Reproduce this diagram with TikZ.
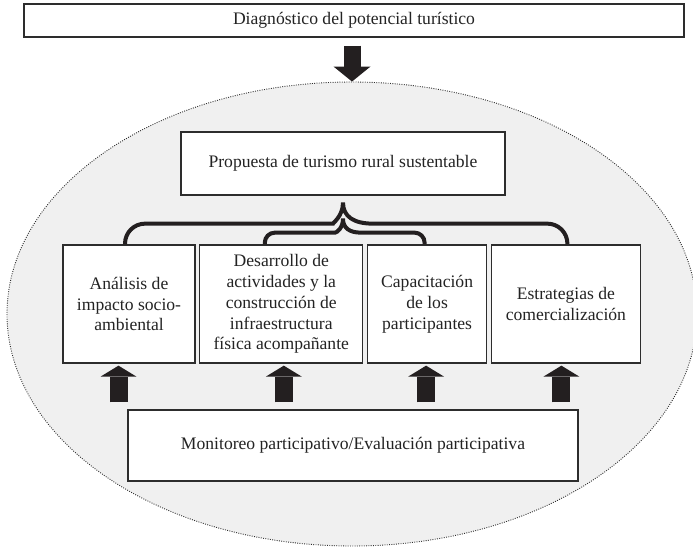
\documentclass[tikz,border=0pt]{standalone}
\usepackage{fontspec}
\setmainfont{Liberation Serif}
\usepackage{xcolor}
\usetikzlibrary{shapes.geometric, arrows.meta, positioning, calc}
\definecolor{cZone}{RGB}{240,240,240}
\definecolor{cLine}{RGB}{45,45,45}
\definecolor{cText}{RGB}{35,35,35}
\definecolor{cArrow}{RGB}{35,31,32}
\tikzset{
	box/.style      ={rectangle, draw=cLine, line width=1.3pt, fill=white, align=center, inner sep=2pt, text=cText},
	zonestyle/.style={ellipse, draw=cLine, fill=cZone, line width=0.9pt, dash pattern=on 0.9pt off 1.4pt, inner sep=0pt},
	downflow/.style ={line width=17pt, draw=cArrow, -{Triangle[length=15pt, width=37pt, line width=0pt]}},
	upflow/.style   ={line width=18pt, draw=cArrow, -{Triangle[length=11pt, width=36pt, line width=0pt]}},
	bracket/.style  ={line width=4pt, draw=cArrow},
}
\begin{document}
\begin{tikzpicture}[x=1pt, y=-1pt, node distance=3.5pt,
					every node/.style={font=\fontsize{17.6pt}{20.8pt}\selectfont}]
	\useasboundingbox (0,0) rectangle (693,549);
	\node[zonestyle, minimum width=690pt, minimum height=464pt] (zone) at (352,314) {};
	\node[box, minimum width=660pt, minimum height=33pt] (diag) at (354,20.5) {Diagnóstico del potencial turístico};
	\node[box, minimum width=324pt, minimum height=63pt] (prop) at (343,163.5) {Propuesta de turismo rural sustentable};
	\node[box, minimum width=132pt, minimum height=118pt] (anal) at (129,304) {Análisis de\\ impacto socio-\\ ambiental};
	\node[box, minimum width=163pt, minimum height=118pt, right=of anal] (desa) {Desarrollo de\\ actividades y la\\ construcción de\\ infraestructura\\ física acompañante};
	\node[box, minimum width=119pt, minimum height=118pt, right=of desa] (capa) {Capacitación\\ de los\\ participantes};
	\node[box, minimum width=149pt, minimum height=118pt, right=of capa] (estr) {Estrategias de\\ comercialización};
	\node[box, minimum width=450pt, minimum height=71pt] (moni) at (353,445.5) {Monitoreo participativo/Evaluación participativa};
	\draw[downflow, shorten <=8pt] (zone.north |- diag.south) -- (zone.north);
	\coordinate (u1) at ([xshift=-10.5pt]anal.south);
	\coordinate (u2) at ([xshift=2.5pt]desa.south);
	\coordinate (u3) at ([xshift=-1pt]capa.south);
	\coordinate (u4) at ([xshift=-4.5pt]estr.south);
	\foreach \u in {u1,u2,u3,u4}
		\draw[upflow, shorten <=7pt, shorten >=2pt] (\u |- moni.north) -- (\u);
	\coordinate (tipA) at ($(prop.south)+(0,7)$);
	\coordinate (tipB) at ($(prop.south)+(0,23)$);
	\draw[bracket] ([xshift=-4pt]anal.north) [rounded corners=20pt] |- ($(tipA)+(-30,21)$) [sharp corners]
		.. controls ($(tipA)+(-11,21)$) and ($(tipA)+(0,14)$) .. (tipA)
		.. controls ($(tipA)+(0,14)$) and ($(tipA)+(11,21)$) .. ($(tipA)+(30,21)$)
		[rounded corners=20pt] -| ([xshift=1.5pt]estr.north);
	\draw[bracket] ([xshift=-16.5pt]desa.north) [rounded corners=10pt] |- ($(tipB)+(-18,14)$) [sharp corners]
		.. controls ($(tipB)+(-6,14)$) and ($(tipB)+(0,9)$) .. (tipB)
		.. controls ($(tipB)+(0,9)$) and ($(tipB)+(6,14)$) .. ($(tipB)+(18,14)$)
		[rounded corners=10pt] -| ([xshift=-2.5pt]capa.north);
\end{tikzpicture}
\end{document}
